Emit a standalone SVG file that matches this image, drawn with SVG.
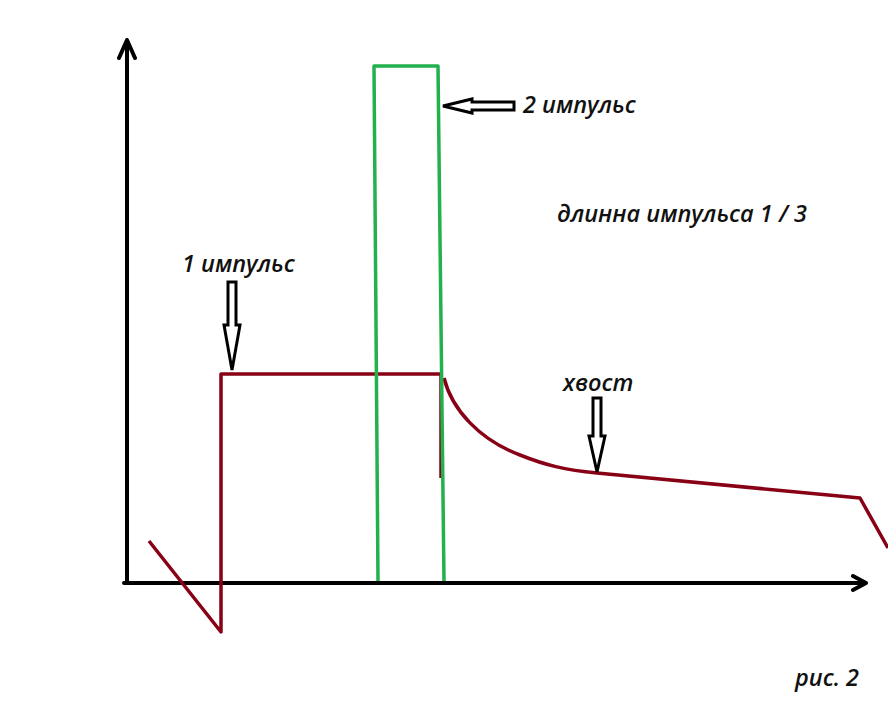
<svg xmlns="http://www.w3.org/2000/svg" width="888" height="720" viewBox="0 0 888 720">
<style>
.ax{fill:none;stroke:#000;stroke-width:4;stroke-linecap:round;stroke-linejoin:round}
.red{fill:none;stroke:#880015;stroke-width:3.5;stroke-linejoin:round}
.grn{fill:none;stroke:#22b14c;stroke-width:3.5;stroke-linejoin:round}
.arr{fill:#fff;stroke:#000;stroke-width:3;stroke-linejoin:miter}
.t{font-family:"Open Sans","Noto Sans",sans-serif;font-style:italic;font-weight:600;font-size:23.5px;fill:#111}
</style>
<rect width="888" height="720" fill="#fff"/>
<g id="axes">
<path class="ax" d="M127 583 L127 40 M119 58 L127 40 L135 58"/>
<path class="ax" d="M124 583 L866 583 M853 576 L866 583 L853 590"/>
</g>
<g id="pulse1">
<path class="red" d="M149 541 L221 632 L221 374 L441 374 L441 478"/>
<path class="red" d="M444 378 C452 410 480 440 520 455 C545 465 565 470 597 473 L860 498 L888 548"/>
</g>
<g id="pulse2">
<path class="grn" d="M378 581 L374 66 L438 66 L444 581"/>
</g>
<g id="connectors">
<path class="arr" d="M228 282 L236 282 L236 325 L240 325 L232 370 L224 325 L228 325 Z"/>
<path class="arr" d="M593 398 L601 398 L601 436 L605 436 L597 472 L589 436 L593 436 Z"/>
<path class="arr" d="M514 102 L514 110 L472 110 L472 113 L443 106 L472 99 L472 102 Z"/>
</g>
<g id="labels">
<text class="t" x="523" y="113">2 импульс</text>
<text class="t" x="557" y="222">длинна импульса 1 / 3</text>
<text class="t" x="182" y="272">1 импульс</text>
<text class="t" x="563" y="391">хвост</text>
<text class="t" x="795" y="686">рис. 2</text>
</g>
</svg>
